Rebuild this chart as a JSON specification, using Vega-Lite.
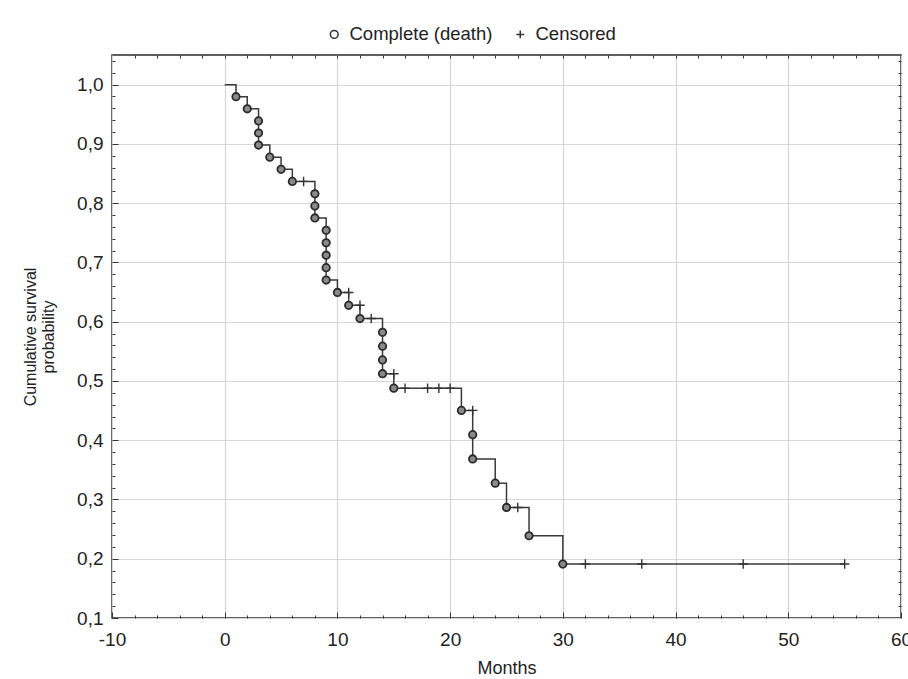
{
  "$schema": "https://vega.github.io/schema/vega-lite/v6.json",
  "width": 789,
  "height": 563,
  "autosize": {"type": "none"},
  "padding": {"left": 112, "top": 55, "right": 7, "bottom": 61},
  "background": "#ffffff",
  "config": {
    "font": "Liberation Sans",
    "view": {"stroke": "#2b2b2b", "strokeWidth": 1.5, "fill": "#ffffff"},
    "axis": {"labelFont": "Liberation Sans", "titleFont": "Liberation Sans", "labelColor": "#222", "titleColor": "#222", "labelFontSize": 19, "titleFontSize": 18, "titleFontWeight": "normal", "domain": false, "tickColor": "#333", "gridColor": "#d6d6d6", "gridWidth": 1.2}
  },
  "data": {"values": [
    {"i": 0, "month": 0, "surv": 1.0, "kind": "start"},
    {"i": 1, "month": 1, "surv": 0.9796, "kind": "Complete (death)"},
    {"i": 2, "month": 2, "surv": 0.9592, "kind": "Complete (death)"},
    {"i": 3, "month": 3, "surv": 0.9388, "kind": "Complete (death)"},
    {"i": 4, "month": 3, "surv": 0.9184, "kind": "Complete (death)"},
    {"i": 5, "month": 3, "surv": 0.898, "kind": "Complete (death)"},
    {"i": 6, "month": 4, "surv": 0.8776, "kind": "Complete (death)"},
    {"i": 7, "month": 5, "surv": 0.8571, "kind": "Complete (death)"},
    {"i": 8, "month": 6, "surv": 0.8367, "kind": "Complete (death)"},
    {"i": 9, "month": 7, "surv": 0.8367, "kind": "Censored"},
    {"i": 10, "month": 8, "surv": 0.8158, "kind": "Complete (death)"},
    {"i": 11, "month": 8, "surv": 0.7954, "kind": "Complete (death)"},
    {"i": 12, "month": 8, "surv": 0.775, "kind": "Complete (death)"},
    {"i": 13, "month": 9, "surv": 0.7541, "kind": "Complete (death)"},
    {"i": 14, "month": 9, "surv": 0.7331, "kind": "Complete (death)"},
    {"i": 15, "month": 9, "surv": 0.7122, "kind": "Complete (death)"},
    {"i": 16, "month": 9, "surv": 0.6912, "kind": "Complete (death)"},
    {"i": 17, "month": 9, "surv": 0.6703, "kind": "Complete (death)"},
    {"i": 18, "month": 10, "surv": 0.6493, "kind": "Complete (death)"},
    {"i": 19, "month": 11, "surv": 0.6493, "kind": "Censored"},
    {"i": 20, "month": 11, "surv": 0.6277, "kind": "Complete (death)"},
    {"i": 21, "month": 12, "surv": 0.6277, "kind": "Censored"},
    {"i": 22, "month": 12, "surv": 0.6053, "kind": "Complete (death)"},
    {"i": 23, "month": 13, "surv": 0.6053, "kind": "Censored"},
    {"i": 24, "month": 14, "surv": 0.582, "kind": "Complete (death)"},
    {"i": 25, "month": 14, "surv": 0.5587, "kind": "Complete (death)"},
    {"i": 26, "month": 14, "surv": 0.5355, "kind": "Complete (death)"},
    {"i": 27, "month": 14, "surv": 0.5122, "kind": "Complete (death)"},
    {"i": 28, "month": 15, "surv": 0.5122, "kind": "Censored"},
    {"i": 29, "month": 15, "surv": 0.4878, "kind": "Complete (death)"},
    {"i": 30, "month": 16, "surv": 0.4878, "kind": "Censored"},
    {"i": 31, "month": 18, "surv": 0.4878, "kind": "Censored"},
    {"i": 32, "month": 19, "surv": 0.4878, "kind": "Censored"},
    {"i": 33, "month": 20, "surv": 0.4878, "kind": "Censored"},
    {"i": 34, "month": 21, "surv": 0.4503, "kind": "Complete (death)"},
    {"i": 35, "month": 22, "surv": 0.4503, "kind": "Censored"},
    {"i": 36, "month": 22, "surv": 0.4094, "kind": "Complete (death)"},
    {"i": 37, "month": 22, "surv": 0.3684, "kind": "Complete (death)"},
    {"i": 38, "month": 24, "surv": 0.3275, "kind": "Complete (death)"},
    {"i": 39, "month": 25, "surv": 0.2865, "kind": "Complete (death)"},
    {"i": 40, "month": 26, "surv": 0.2865, "kind": "Censored"},
    {"i": 41, "month": 27, "surv": 0.2388, "kind": "Complete (death)"},
    {"i": 42, "month": 30, "surv": 0.191, "kind": "Complete (death)"},
    {"i": 43, "month": 32, "surv": 0.191, "kind": "Censored"},
    {"i": 44, "month": 37, "surv": 0.191, "kind": "Censored"},
    {"i": 45, "month": 46, "surv": 0.191, "kind": "Censored"},
    {"i": 46, "month": 55, "surv": 0.191, "kind": "Censored"}
  ]},
  "resolve": {"axis": {"x": "independent", "y": "independent"}},
  "layer": [
    {
      "mark": {"type": "line", "interpolate": "step-after", "color": "#3a3a3a", "strokeWidth": 1.5},
      "encoding": {
        "x": {"field": "month", "type": "quantitative", "scale": {"domain": [-10, 60], "nice": false, "zero": false},
          "axis": {"orient": "bottom", "title": "Months", "values": [-10, 0, 10, 20, 30, 40, 50, 60], "labelExpr": "'' + datum.value", "tickSize": -6, "labelPadding": 18, "titlePadding": 10, "grid": true, "labelFlush": false}},
        "y": {"field": "surv", "type": "quantitative", "scale": {"domain": [0.1, 1.05], "nice": false, "zero": false},
          "axis": {"orient": "left", "title": ["Cumulative survival", "probability"], "titleFontSize": 16, "values": [0.1, 0.2, 0.3, 0.4, 0.5, 0.6, 0.7, 0.8, 0.9, 1.0], "labelExpr": "replace(format(datum.value, '.1f'), '.', ',')", "tickSize": -6, "labelPadding": 15, "titlePadding": 20, "grid": true, "labelFlush": false}},
        "order": {"field": "i", "type": "quantitative"}
      }
    },
    {
      "transform": [{"filter": "datum.kind == 'Censored'"}],
      "mark": {"type": "point", "filled": false, "stroke": "#333", "strokeWidth": 1.4, "size": 90, "opacity": 1},
      "encoding": {
        "x": {"field": "month", "type": "quantitative",
          "axis": {"orient": "top", "title": null, "labels": false, "grid": false, "values": [-8, -6, -4, -2, 0, 2, 4, 6, 8, 10, 12, 14, 16, 18, 20, 22, 24, 26, 28, 30, 32, 34, 36, 38, 40, 42, 44, 46, 48, 50, 52, 54, 56, 58], "tickSize": -3}},
        "y": {"field": "surv", "type": "quantitative",
          "axis": {"orient": "right", "title": null, "labels": false, "grid": false, "values": [0.12, 0.14, 0.16, 0.18, 0.2, 0.22, 0.24, 0.26, 0.28, 0.3, 0.32, 0.34, 0.36, 0.38, 0.4, 0.42, 0.44, 0.46, 0.48, 0.5, 0.52, 0.54, 0.56, 0.58, 0.6, 0.62, 0.64, 0.66, 0.68, 0.7, 0.72, 0.74, 0.76, 0.78, 0.8, 0.82, 0.84, 0.86, 0.88, 0.9, 0.92, 0.94, 0.96, 0.98, 1.0, 1.02, 1.04], "tickSize": -3}},
        "shape": {"field": "kind", "type": "nominal",
          "scale": {"domain": ["Complete (death)", "Censored"], "range": ["circle", "M-1,0H1M0,-1V1"]},
          "legend": {"title": null, "orient": "none", "legendX": 213, "legendY": -30, "direction": "horizontal", "labelFontSize": 18.5, "labelFont": "Liberation Sans", "labelColor": "#222", "symbolSize": 60, "columnPadding": 18, "labelOffset": 6,
            "encode": {"symbols": {"update": {"stroke": {"value": "#222222"}, "strokeWidth": {"value": 1.6}, "opacity": {"value": 1}, "strokeOpacity": {"value": 1}}}}}}
      }
    },
    {
      "transform": [{"filter": "datum.kind == 'Complete (death)'"}],
      "mark": {"type": "point", "filled": true, "fill": "#8a8a8a", "stroke": "#2a2a2a", "strokeWidth": 1.8, "size": 55, "opacity": 1},
      "encoding": {
        "x": {"field": "month", "type": "quantitative",
          "axis": {"orient": "bottom", "title": null, "labels": false, "grid": false, "values": [-8, -6, -4, -2, 2, 4, 6, 8, 12, 14, 16, 18, 22, 24, 26, 28, 32, 34, 36, 38, 42, 44, 46, 48, 52, 54, 56, 58], "tickSize": -3}},
        "y": {"field": "surv", "type": "quantitative",
          "axis": {"orient": "left", "title": null, "labels": false, "grid": false, "values": [0.12, 0.14, 0.16, 0.18, 0.22, 0.24, 0.26, 0.28, 0.32, 0.34, 0.36, 0.38, 0.42, 0.44, 0.46, 0.48, 0.52, 0.54, 0.56, 0.58, 0.62, 0.64, 0.66, 0.68, 0.72, 0.74, 0.76, 0.78, 0.82, 0.84, 0.86, 0.88, 0.92, 0.94, 0.96, 0.98, 1.02, 1.04], "tickSize": -3}},
        "shape": {"field": "kind", "type": "nominal"}
      }
    }
  ]
}
